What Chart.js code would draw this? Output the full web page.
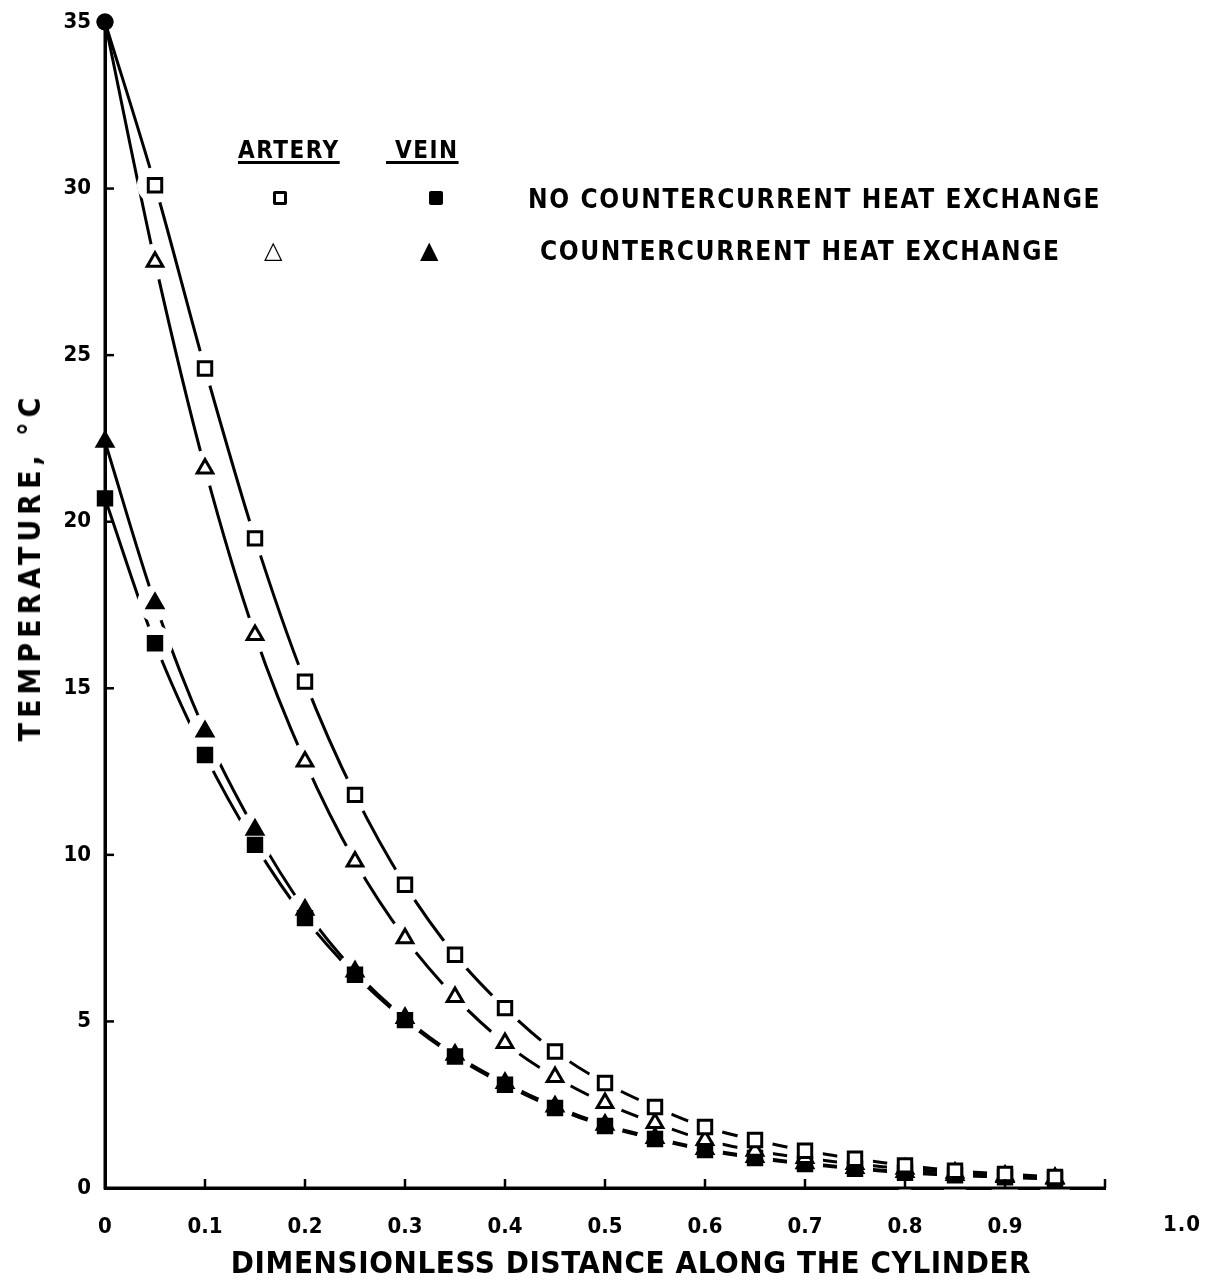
<!DOCTYPE html>
<html lang="en">

<head>
    <meta charset="utf-8">
    <title>Temperature along the cylinder</title>
    <script src="https://cdn.jsdelivr.net/npm/chart.js@4.4.0/dist/chart.umd.min.js"></script>
    <style>
        body { margin: 0; background: #fff; }
        .wrap { position: relative; width: 1214px; height: 1285px; }
        .lg { position: absolute; font-family: 'DejaVu Sans Condensed', 'DejaVu Sans', sans-serif;
              font-weight: bold; color: #000; white-space: nowrap; line-height: 1; }
        .hd { font-size: 24px; letter-spacing: 1.5px; text-decoration: underline; text-decoration-thickness: 3px;
              text-underline-offset: 3px; }
        .txt { font-size: 26px; letter-spacing: 1.6px; }
        .mk { position: absolute; box-sizing: border-box; }
        .sq-open { width: 14px; height: 14px; border: 3px solid #000; border-radius: 2px; }
        .sq-fill { width: 14px; height: 14px; background: #000; border-radius: 2px; }
        .tri { font-family: 'DejaVu Sans', sans-serif; font-size: 24px; line-height: 1; position: absolute; font-weight: bold; }
        .xt { left: 631px; top: 1262px; transform: translate(-50%, -50%); font-size: 31px; letter-spacing: 0.6px; }
        .yt { left: 30px; top: 567px; transform: translate(-50%, -50%) rotate(-90deg); font-size: 30px; letter-spacing: 5px; }
    </style>
</head>

<body>
    <div class="wrap">
        <canvas id="myChart" width="1214" height="1285"></canvas>

        <!-- legend block -->
        <div class="lg hd" style="left:238px; top:138px;">ARTERY</div>
        <div class="lg hd" style="left:386px; top:138px;">&nbsp;VEIN</div>
        <div class="mk sq-open" style="left:273px; top:191px;"></div>
        <div class="mk sq-fill" style="left:429px; top:191px;"></div>
        <div class="tri" style="left:264px; top:238px;">&#9651;</div>
        <div class="tri" style="left:420px; top:238px;">&#9650;</div>
        <div class="lg txt" style="left:528px; top:186px;">NO COUNTERCURRENT HEAT EXCHANGE</div>
        <div class="lg txt" style="left:540px; top:238px;">COUNTERCURRENT HEAT EXCHANGE</div>

        <!-- axis titles -->
        <div class="lg xt">DIMENSIONLESS DISTANCE ALONG THE CYLINDER</div>
        <div class="lg yt">TEMPERATURE, °C</div>
        <!-- last x label sits off the end of the axis in the original -->
        <div class="lg" style="left:1163px; top:1213px; font-size:22px; letter-spacing:1px;">1.0</div>
    </div>

    <script>
        // dimensionless distance (x) and temperatures (deg C)
        const distance = [0, 0.05, 0.1, 0.15, 0.2, 0.25, 0.3, 0.35, 0.4, 0.45,
            0.5, 0.55, 0.6, 0.65, 0.7, 0.75, 0.8, 0.85, 0.9, 0.95];
        const arteryNoCC = [35, 30.1, 24.6, 19.5, 15.2, 11.8, 9.1, 7.0, 5.4, 4.1,
            3.15, 2.43, 1.83, 1.44, 1.12, 0.88, 0.68, 0.52, 0.42, 0.33];
        const arteryCC = [35, 27.8, 21.6, 16.6, 12.8, 9.8, 7.5, 5.73, 4.35, 3.33,
            2.55, 1.95, 1.44, 1.12, 0.9, 0.72, 0.58, 0.46, 0.37, 0.3];
        const veinNoCC = [20.7, 16.35, 13.0, 10.3, 8.1, 6.4, 5.04, 3.95, 3.1, 2.4,
            1.86, 1.47, 1.14, 0.9, 0.72, 0.58, 0.46, 0.38, 0.32, 0.27];
        const veinCC = [22.4, 17.55, 13.7, 10.75, 8.35, 6.5, 5.1, 4.0, 3.15, 2.45,
            1.9, 1.5, 1.17, 0.93, 0.74, 0.6, 0.48, 0.39, 0.33, 0.28];

        const yTicks = [0, 5, 10, 15, 20, 25, 30, 35];
        const xTickLabels = ['0', '0.1', '0.2', '0.3', '0.4', '0.5', '0.6', '0.7', '0.8', '0.9', ''];

        const FONT = "'DejaVu Sans Condensed', 'DejaVu Sans', sans-serif";

        function pts(arr) {
            return arr.map(function (v, i) { return { x: distance[i], y: v }; });
        }

        // curve, white gap behind markers, markers
        function series(vals, style, filled, firstDot) {
            const line = {
                data: pts(vals), order: 2, showLine: true, pointRadius: 0,
                borderColor: '#000', borderWidth: 3, cubicInterpolationMode: 'monotone'
            };
            const gap = {
                data: pts(vals), order: 1, showLine: false,
                pointRadius: vals.map(function (v, i) { return i == 0 ? 0 : 18; }),
                pointStyle: 'circle', pointBackgroundColor: '#fff', pointBorderColor: '#fff', pointBorderWidth: 0
            };
            const marks = {
                data: pts(vals), order: 0, showLine: false,
                pointStyle: vals.map(function (v, i) { return (i == 0 && firstDot) ? 'circle' : style; }),
                pointRadius: vals.map(function (v, i) { return (i == 0 && firstDot) ? 7 : (style == 'triangle' ? 9 : 9.5); }),
                pointBackgroundColor: vals.map(function (v, i) { return (filled || (i == 0 && firstDot)) ? '#000' : '#fff'; }),
                pointBorderColor: '#000', pointBorderWidth: 3
            };
            return [line, gap, marks];
        }

        const datasets = [].concat(
            series(arteryNoCC, 'rect', false, true),
            series(arteryCC, 'triangle', false, true),
            series(veinNoCC, 'rect', true, false),
            series(veinCC, 'triangle', true, false)
        );

        // axis lines on top of the white gaps, plus small tick marks pointing into the plot
        const innerTicks = {
            id: 'innerTicks',
            afterDatasetsDraw(chart) {
                const c = chart.ctx, a = chart.chartArea;
                const xs = chart.scales.x, ys = chart.scales.y;
                c.save();
                c.strokeStyle = '#000';
                c.lineWidth = 3;
                c.beginPath();
                c.moveTo(a.left, a.top); c.lineTo(a.left, a.bottom); c.lineTo(a.right, a.bottom);
                c.stroke();
                c.lineWidth = 2.5;
                xs.ticks.forEach(function (t) {
                    if (t.value == 0) return;
                    const px = xs.getPixelForValue(t.value);
                    c.beginPath(); c.moveTo(px, a.bottom); c.lineTo(px, a.bottom - 9); c.stroke();
                });
                ys.ticks.forEach(function (t) {
                    if (t.value == 0 || t.value == 35) return;
                    const py = ys.getPixelForValue(t.value);
                    c.beginPath(); c.moveTo(a.left, py); c.lineTo(a.left + 9, py); c.stroke();
                });
                c.restore();
            }
        };

        const ctx = document.getElementById('myChart').getContext('2d');
        const chart = new Chart(ctx, {
            type: 'scatter',
            data: { datasets: datasets },
            options: {
                responsive: false,
                animation: false,
                clip: false,
                layout: { padding: { left: 0, right: 109, top: 22, bottom: 0 } },
                plugins: { legend: { display: false }, tooltip: { enabled: false } },
                scales: {
                    x: {
                        type: 'linear', min: 0, max: 1,
                        afterFit: function (s) { s.height = 97; },
                        grid: { display: false },
                        border: { display: true, color: '#000', width: 3 },
                        ticks: {
                            stepSize: 0.1, padding: 18, color: '#000',
                            font: { family: FONT, size: 22, weight: 'bold' },
                            callback: function (v, i) { return xTickLabels[i]; }
                        }
                    },
                    y: {
                        min: 0, max: 35,
                        afterFit: function (s) { s.width = 105; },
                        afterBuildTicks: function (s) { s.ticks = yTicks.map(function (v) { return { value: v }; }); },
                        grid: { display: false },
                        border: { display: true, color: '#000', width: 3 },
                        ticks: {
                            padding: 6, color: '#000',
                            font: { family: FONT, size: 22, weight: 'bold' }
                        }
                    }
                }
            },
            plugins: [innerTicks]
        });
    </script>
</body>

</html>
